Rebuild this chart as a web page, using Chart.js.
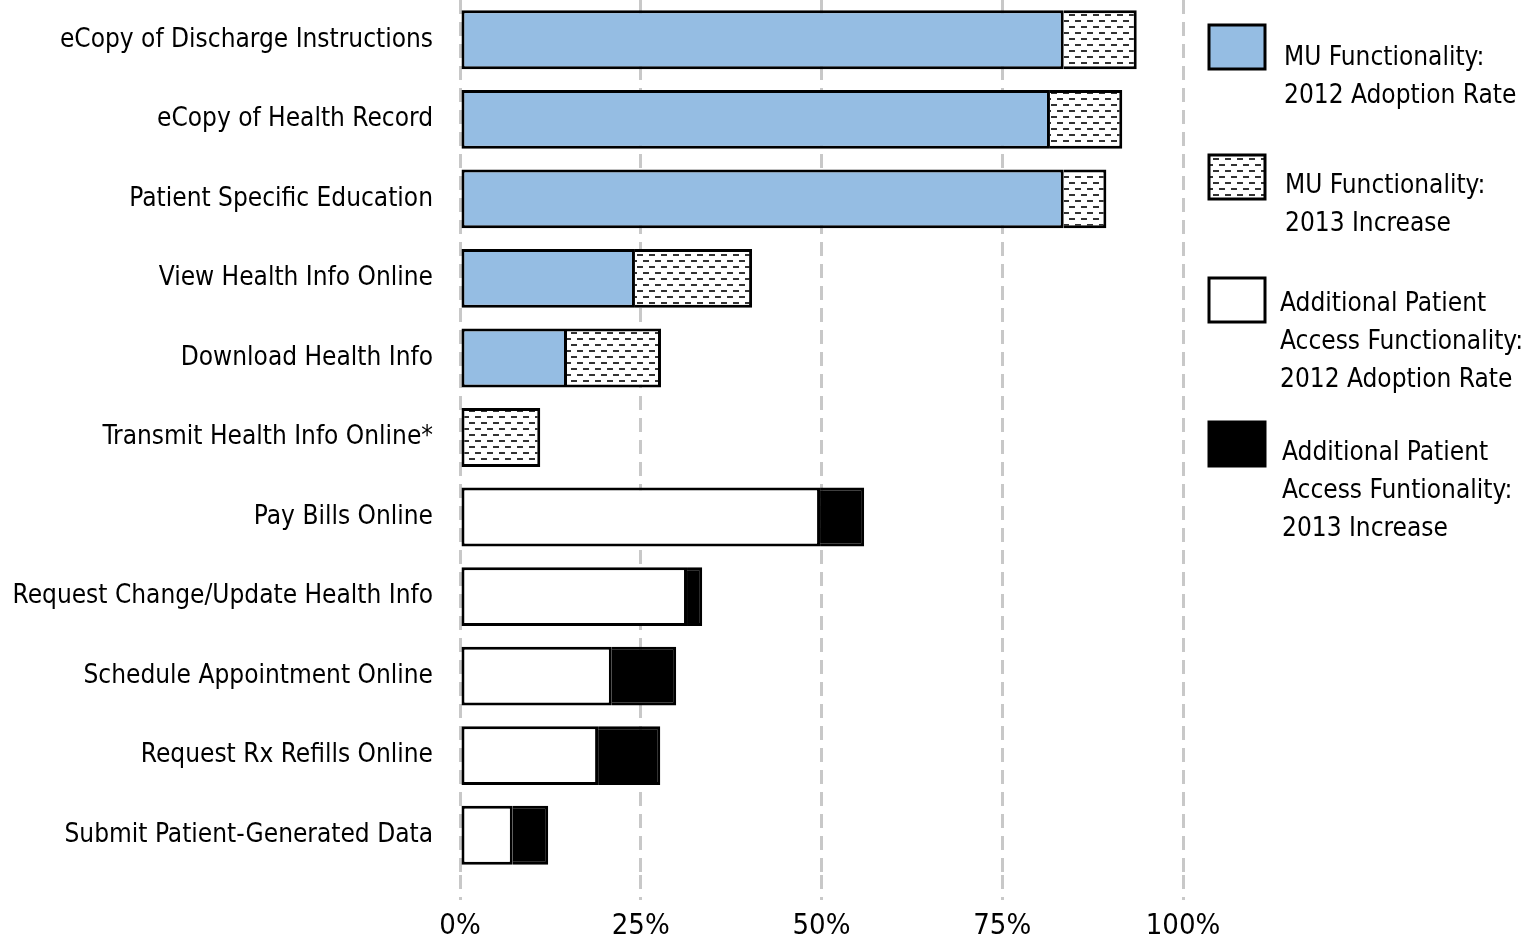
<!DOCTYPE html>
<html>
<head>
<meta charset="utf-8">
<script src="https://cdn.jsdelivr.net/npm/chart.js@4.4.1/dist/chart.umd.min.js"></script>
<style>
  html, body { margin: 0; padding: 0; background: #fff; }
  #wrap { width: 1539px; height: 940px; position: relative; }
</style>
</head>
<body>
<div id="wrap"><canvas id="myChart"></canvas></div>
<script>
const categories = [
  "eCopy of Discharge Instructions",
  "eCopy of Health Record",
  "Patient Specific Education",
  "View Health Info Online",
  "Download Health Info",
  "Transmit Health Info Online*",
  "Pay Bills Online",
  "Request Change/Update Health Info",
  "Schedule Appointment Online",
  "Request Rx Refills Online",
  "Submit Patient-Generated Data",
];
const muAdoption2012 = [83.5, 81.6, 83.5, 24.2, 14.8, null, null, null, null, null, null];
const muIncrease2013 = [10.1, 10.0, 5.9, 16.2, 13.0, 11.1, null, null, null, null, null];
const extraAdoption2012 = [null, null, null, null, null, null, 49.8, 31.4, 21.0, 19.1, 7.3];
const extraIncrease2013 = [null, null, null, null, null, null, 6.1, 2.1, 8.9, 8.6, 4.9];
const xTicks = [0, 25, 50, 75, 100];

const legendLabels = [
  ["MU Functionality:", "2012 Adoption Rate"],
  ["MU Functionality:", "2013 Increase"],
  ["Additional Patient", "Access Functionality:", "2012 Adoption Rate"],
  ["Additional Patient", "Access Funtionality:", "2013 Increase"],
];

const FONT = "'Liberation Sans Narrow', 'Arial Narrow', 'DejaVu Sans Condensed', sans-serif";

// dashed hatch like the original
function makeHatch() {
  const c = document.createElement("canvas");
  c.width = 12;
  c.height = 12;
  const g = c.getContext("2d");
  g.fillStyle = "#fff";
  g.fillRect(0, 0, 12, 12);
  g.fillStyle = "#333";
  g.fillRect(1, 2, 6, 2);
  g.fillRect(7, 8, 6, 2);
  g.fillRect(-5, 8, 6, 2);
  return g.createPattern(c, "repeat");
}

const ctx = document.getElementById("myChart").getContext("2d");
const hatch = makeHatch();
const BLUE = "#95bde3";
const swatchFills = [BLUE, hatch, "#ffffff", "#000000"];

const sideLegend = {
  id: "sideLegend",
  afterDraw(chart) {
    const c = chart.ctx;
    const boxes = [
      { y: 25, tx: 1284, ty: 58 },
      { y: 155, tx: 1285, ty: 186 },
      { y: 278, tx: 1280, ty: 304 },
      { y: 422, tx: 1282, ty: 453 },
    ];
    c.save();
    boxes.forEach((b, i) => {
      c.fillStyle = swatchFills[i];
      c.fillRect(1209, b.y, 56, 44);
      c.lineWidth = 3;
      c.strokeStyle = "#000";
      c.strokeRect(1209, b.y, 56, 44);
      c.fillStyle = "#000";
      c.font = "26px " + FONT;
      c.textBaseline = "middle";
      c.textAlign = "left";
      legendLabels[i].forEach((line, j) => {
        c.fillText(line, b.tx, b.ty + j * 38);
      });
    });
    c.restore();
  },
};

// second segment of a stack skips its left border so the divider stays single
function seg(label, data, fill, base) {
  return {
    label: label,
    data: data,
    backgroundColor: fill,
    borderColor: "#000",
    borderWidth: 3,
    borderSkipped: base ? (c) => (base[c.dataIndex] == null ? false : "start") : false,
    categoryPercentage: 1,
    barPercentage: 0.74,
  };
}

const chart = new Chart(ctx, {
  type: "bar",
  data: {
    labels: categories,
    datasets: [
      seg("MU Functionality: 2012 Adoption Rate", muAdoption2012, BLUE),
      seg("MU Functionality: 2013 Increase", muIncrease2013, hatch, muAdoption2012),
      seg("Additional Patient Access Functionality: 2012 Adoption Rate", extraAdoption2012, "#ffffff"),
      seg("Additional Patient Access Funtionality: 2013 Increase", extraIncrease2013, "#000000", extraAdoption2012),
    ],
  },
  options: {
    indexAxis: "y",
    responsive: true,
    maintainAspectRatio: false,
    animation: false,
    layout: { padding: { top: 0, right: 356, bottom: 0, left: 0 } },
    scales: {
      x: {
        stacked: true,
        min: 0,
        max: 100,
        afterBuildTicks: (scale) => {
          scale.ticks = xTicks.map((v) => ({ value: v }));
        },
        afterFit: (scale) => {
          scale.height = 65;
          scale.paddingLeft = 0;
          scale.paddingRight = 0;
        },
        grid: {
          color: "#c8c8c8",
          lineWidth: 3,
          tickLength: 25,
          tickBorderDash: [14, 8],
        },
        border: { display: false, dash: [14, 8] },
        ticks: {
          padding: 9,
          color: "#000",
          font: { family: FONT, size: 29 },
          maxRotation: 0,
          callback: (v) => v + "%",
        },
      },
      y: {
        stacked: true,
        afterFit: (scale) => {
          scale.width = 460;
          scale.paddingTop = 0;
          scale.paddingBottom = 0;
        },
        grid: { display: false, drawTicks: false },
        border: { display: false },
        ticks: {
          padding: 27,
          color: "#000",
          font: { family: FONT, size: 26 },
        },
      },
    },
    plugins: {
      legend: { display: false },
      tooltip: { enabled: false },
    },
  },
  plugins: [sideLegend],
});
</script>
</body>
</html>
